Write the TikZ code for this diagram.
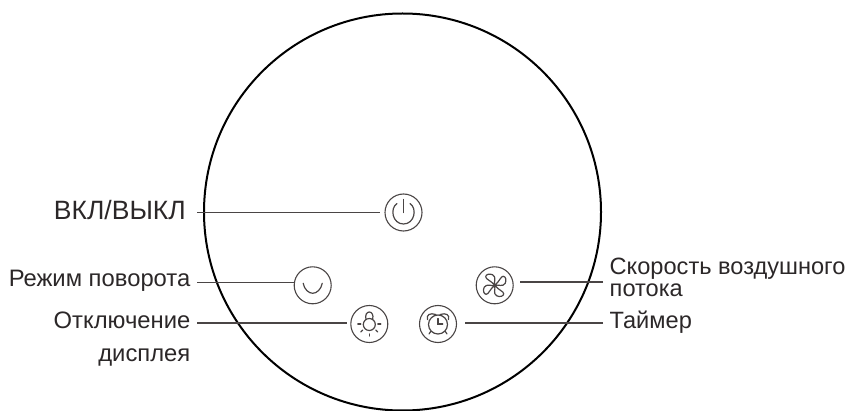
\documentclass[tikz,border=0pt]{standalone}
\usepackage{fontspec}
\setmainfont{Liberation Sans}
\definecolor{inkgray}{HTML}{4A4545}
\definecolor{txtgray}{HTML}{2B2728}
\begin{document}
\begin{tikzpicture}[
    x=1pt, y=-1pt,
    dial/.style={circle, draw, black, line width=2pt, minimum size=397pt, inner sep=0pt},
    btn/.style={circle, draw=inkgray, line width=1.1pt, minimum size=37pt, inner sep=0pt},
    icon/.style={draw=inkgray, line width=1.2pt, line cap=round},
    lbl/.style={inner sep=0pt, text=txtgray, font=\fontsize{23.8}{26}\selectfont},
    lead/.style={draw=inkgray, line width=1.4pt}
]
\useasboundingbox (0,0) rectangle (853,411);

\node[dial] (dial) at (402.5,212) {};

\node[btn] (power) at (403.5,212.5) {};
\node[btn] (swing) at (312.7,285.3) {};
\node[btn] (fan) at (494.7,285.3) {};
\node[btn] (bulb) at (369.3,324) {};
\node[btn] (clock) at (438,324) {};

\coordinate (leftpower) at (197,212.5);
\coordinate (leftswing) at (197,282.5);
\coordinate (leftbulb) at (197,323);
\coordinate (rightfan) at (603,282);
\coordinate (righttimer) at (603,323);

\node[lbl, font=\fontsize{26.5}{28}\selectfont, anchor=base east] (lblpower) at (186,220) {ВКЛ/ВЫКЛ};
\node[lbl, anchor=base east] (lblswing) at (190.5,287) {Режим поворота};
\node[lbl, anchor=base east] (lblbulb) at (190.5,328) {Отключение};
\node[lbl, anchor=base east] (lblbulbb) at (190.5,361) {дисплея};
\node[lbl, align=left, anchor=north west, font=\fontsize{23.6}{22}\selectfont] (lblfan) at (609.5,258) {Скорость воздушного\\потока};
\node[lbl, font=\fontsize{23.6}{26}\selectfont, anchor=base west] (lbltimer) at (609.5,328) {Таймер};

\draw[lead, shorten >=4pt] (leftpower) -- (power);
\draw[lead] (leftswing) -- (leftswing -| swing.west);
\draw[lead, shorten >=3.5pt] (leftbulb) -- (leftbulb -| bulb.west);
\draw[lead, shorten >=6pt] (rightfan) -- (rightfan -| fan.east);
\draw[lead, shorten >=7.5pt] (righttimer) -- (righttimer -| clock.east);

% power
\begin{scope}[shift={(power.center)}]
\draw[icon] (0,-13) -- (0,0);
\draw[icon] (-6.5,-9) .. controls (-14,-4) and (-11,11.5) .. (0,11.5) .. controls (11,11.5) and (14,-4) .. (6.5,-9);
\end{scope}

% swing
\begin{scope}[shift={(swing.center)}]
\draw[icon] (-9.5,-2) .. controls (-8.5,4) and (-4,8) .. (0,8) .. controls (4,8) and (8.5,4) .. (9.5,-2);
\end{scope}

% fan
\begin{scope}[shift={(fan.center)}]
\foreach \ang in {0,90,180,270}
  \draw[icon, rotate=\ang] (0,0) .. controls (-1,-4) and (2,-8) .. (-2,-10.5)
    .. controls (-5,-12) and (-9,-11) .. (-9,-8.5)
    .. controls (-9,-6) and (-4,-5) .. (0,0);
\end{scope}

% bulb
\begin{scope}[shift={(bulb.center)}]
\draw[icon] (0,0.5) circle (6);
\draw[icon] (-3.3,-4.5) .. controls (-4.5,-9) and (-2.5,-12) .. (0,-12) .. controls (2.5,-12) and (4.5,-9) .. (3.3,-4.5);
\draw[icon] (-11.5,0) -- (-8.5,0);
\draw[icon] (8.5,0) -- (11.5,0);
\draw[icon] (-8.5,8) -- (-6.5,6);
\draw[icon] (8.5,8) -- (6.5,6);
\draw[icon] (0,10) -- (0,12);
\end{scope}

% clock
\begin{scope}[shift={(clock.center)}]
\draw[icon] (0,0.5) circle (9.5);
\draw[icon] (0,-5.5) -- (0,0) -- (4.7,0);
\draw[icon] (-10.5,-4.5) .. controls (-12,-9) and (-8,-11.5) .. (-2,-9.5);
\draw[icon] (10.5,-4.5) .. controls (12,-9) and (8,-11.5) .. (2,-9.5);
\draw[icon] (-7.3,7.5) -- (-9,10);
\draw[icon] (7.3,7.5) -- (9,10);
\end{scope}

\end{tikzpicture}
\end{document}
